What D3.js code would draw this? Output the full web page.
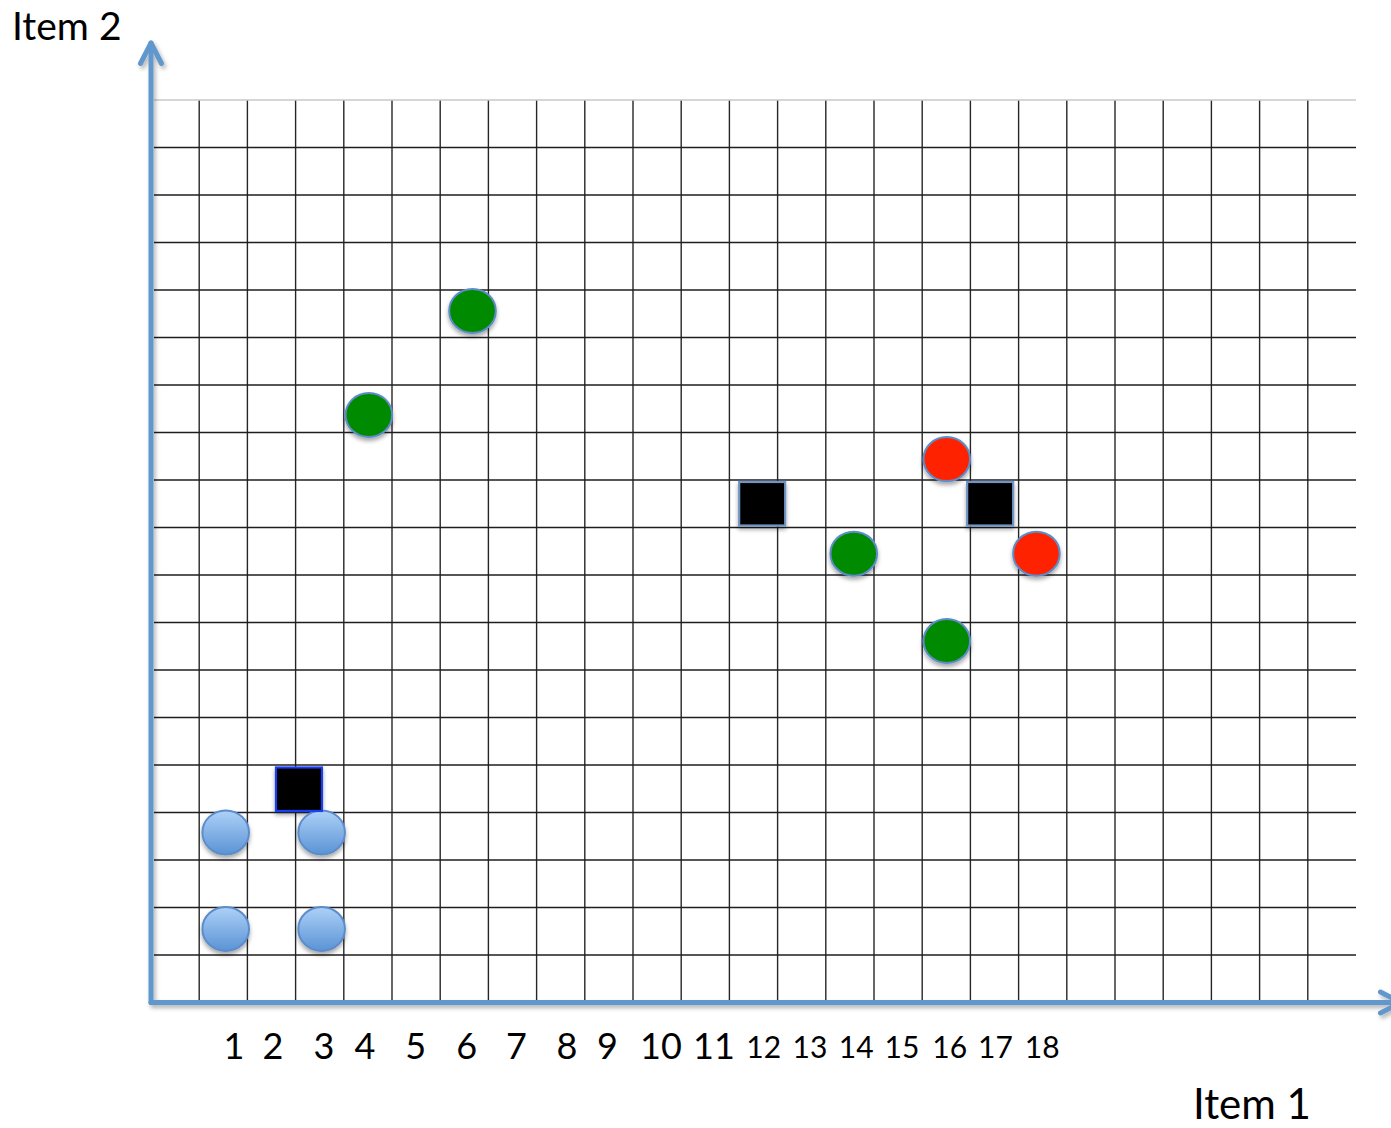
<!DOCTYPE html>
<html>
<head>
<meta charset="utf-8">
<script src="https://cdn.jsdelivr.net/npm/d3@7"></script>
<style>
  html, body { margin: 0; padding: 0; background: #fff; }
  svg { display: block; }
  text { font-family: Lato, "Open Sans", sans-serif; fill: #000; }
</style>
</head>
<body>
<svg id="chart" width="1391" height="1128"></svg>
<script>
// Grid extent, in cell units
const gridCols = 25;
const gridRows = 19;

// Item 1 labels and the cell position each one sits under
const tickLabels = ["1","2","3","4","5","6","7","8","9","10","11","12","13","14","15","16","17","18"];
const tickAt = [1.71, 2.52, 3.58, 4.43, 5.48, 6.54, 7.57, 8.62, 9.46, 10.57, 11.67, 12.70, 13.66, 14.62, 15.57, 16.56, 17.51, 18.48];

// Light-blue group
const blueX = [1.55, 3.54, 1.55, 3.54];
const blueY = [3.58, 3.58, 1.55, 1.55];

// Green group
const greenX = [6.67, 4.52, 14.58, 16.51];
const greenY = [14.56, 12.37, 9.45, 7.61];

// Red group
const redX = [16.51, 18.37];
const redY = [11.44, 9.45];

// Black squares
const squareX = [3.07, 12.68, 17.41];
const squareY = [4.49, 10.50, 10.50];

const xAxisTitle = "Item 1";
const yAxisTitle = "Item 2";

const svg = d3.select("#chart");

const x = d3.scaleLinear().domain([0, gridCols]).range([151, 1356]);
const y = d3.scaleLinear().domain([0, gridRows]).range([1002.5, 100]);

const defs = svg.append("defs");
const shadow = defs.append("filter").attr("id", "shadow")
  .attr("x", "-30%").attr("y", "-30%").attr("width", "160%").attr("height", "170%");
shadow.append("feDropShadow").attr("dx", 0).attr("dy", 3).attr("stdDeviation", 2.2)
  .attr("flood-color", "#000").attr("flood-opacity", 0.35);

const axisShadow = defs.append("filter").attr("id", "axisShadow")
  .attr("x", "-5%").attr("y", "-5%").attr("width", "110%").attr("height", "110%");
axisShadow.append("feDropShadow").attr("dx", 2).attr("dy", 3).attr("stdDeviation", 2)
  .attr("flood-color", "#000").attr("flood-opacity", 0.3);

const blueGrad = defs.append("linearGradient").attr("id", "blueFill")
  .attr("x1", 0).attr("y1", 0).attr("x2", 0).attr("y2", 1);
blueGrad.append("stop").attr("offset", "0%").attr("stop-color", "#aed1f8");
blueGrad.append("stop").attr("offset", "100%").attr("stop-color", "#5a93d5");

// Grid
const grid = svg.append("g");
grid.selectAll("line.v")
  .data(d3.range(1, gridCols))
  .join("line")
  .attr("class", "v")
  .attr("x1", d => x(d)).attr("x2", d => x(d))
  .attr("y1", y(gridRows)).attr("y2", y(0))
  .attr("stroke", "#262626").attr("stroke-width", 1.4);

grid.selectAll("line.h")
  .data(d3.range(1, gridRows + 1))
  .join("line")
  .attr("class", "h")
  .attr("x1", x(0) + 3).attr("x2", x(gridCols))
  .attr("y1", d => y(d)).attr("y2", d => y(d))
  .attr("stroke", d => d === gridRows ? "#c8c8c8" : "#1e1e1e")
  .attr("stroke-width", 1.4);

// Axes with arrowheads
const axisColor = "#6197cd";
const axes = svg.append("g").attr("filter", "url(#axisShadow)")
  .attr("stroke", axisColor).attr("stroke-width", 5)
  .attr("stroke-linecap", "round").attr("stroke-linejoin", "round").attr("fill", "none");

const ox = x(0), oy = y(0);
const yTip = 43, xTip = 1401;
axes.append("path").attr("d", `M${ox},${oy} L${ox},${yTip}`);
axes.append("path").attr("d", `M${ox - 10.5},${yTip + 20.5} L${ox},${yTip} L${ox + 10.5},${yTip + 20.5}`);
axes.append("path").attr("d", `M${ox},${oy} L${xTip},${oy}`);
axes.append("path").attr("d", `M${xTip - 20.5},${oy - 10.5} L${xTip},${oy} L${xTip - 20.5},${oy + 10.5}`);

// Item 1 tick labels
const xAxis = d3.axisBottom(x)
  .tickValues(tickAt)
  .tickSize(0)
  .tickFormat((d, i) => tickLabels[i]);

const tickG = svg.append("g")
  .attr("transform", `translate(0, ${oy})`)
  .call(xAxis);
tickG.select(".domain").remove();
tickG.selectAll(".tick text")
  .attr("y", 0).attr("dy", 0)
  .attr("transform", (d, i) => `translate(0, ${i < 11 ? 56.5 : 55.5})`)
  .style("font-family", "Lato, 'Open Sans', sans-serif")
  .style("font-size", (d, i) => i < 11 ? "36px" : "30px")
  .attr("fill", "#000");

// Axis titles
svg.append("text").attr("x", 12).attr("y", 40)
  .style("font-size", "39px").text(yAxisTitle);
svg.append("text").attr("x", 1193).attr("y", 1119)
  .style("font-size", "42px").text(xAxisTitle);

// Marks
const marks = svg.append("g").attr("filter", "url(#shadow)");

const circleRx = 23.3, circleRy = 22;

function dots(xs, ys, fill, stroke) {
  marks.append("g").selectAll("ellipse")
    .data(xs.map((v, i) => ({ x: v, y: ys[i] })))
    .join("ellipse")
    .attr("cx", d => x(d.x)).attr("cy", d => y(d.y))
    .attr("rx", circleRx).attr("ry", circleRy)
    .attr("fill", fill)
    .attr("stroke", stroke).attr("stroke-width", 2);
}

dots(blueX, blueY, "url(#blueFill)", "#5b8dca");
dots(greenX, greenY, "#008a00", "#5d8cc8");
dots(redX, redY, "#ff2400", "#5d8cc8");

const sqW = 46, sqH = 43.5;
marks.append("g").selectAll("rect")
  .data(squareX.map((v, i) => ({ x: v, y: squareY[i], edge: i === 0 ? "#1b3ef2" : "#6f94c4" })))
  .join("rect")
  .attr("x", d => x(d.x) - sqW / 2).attr("y", d => y(d.y) - sqH / 2)
  .attr("width", sqW).attr("height", sqH)
  .attr("fill", "#000")
  .attr("stroke", d => d.edge).attr("stroke-width", 2.2);
</script>
</body>
</html>
